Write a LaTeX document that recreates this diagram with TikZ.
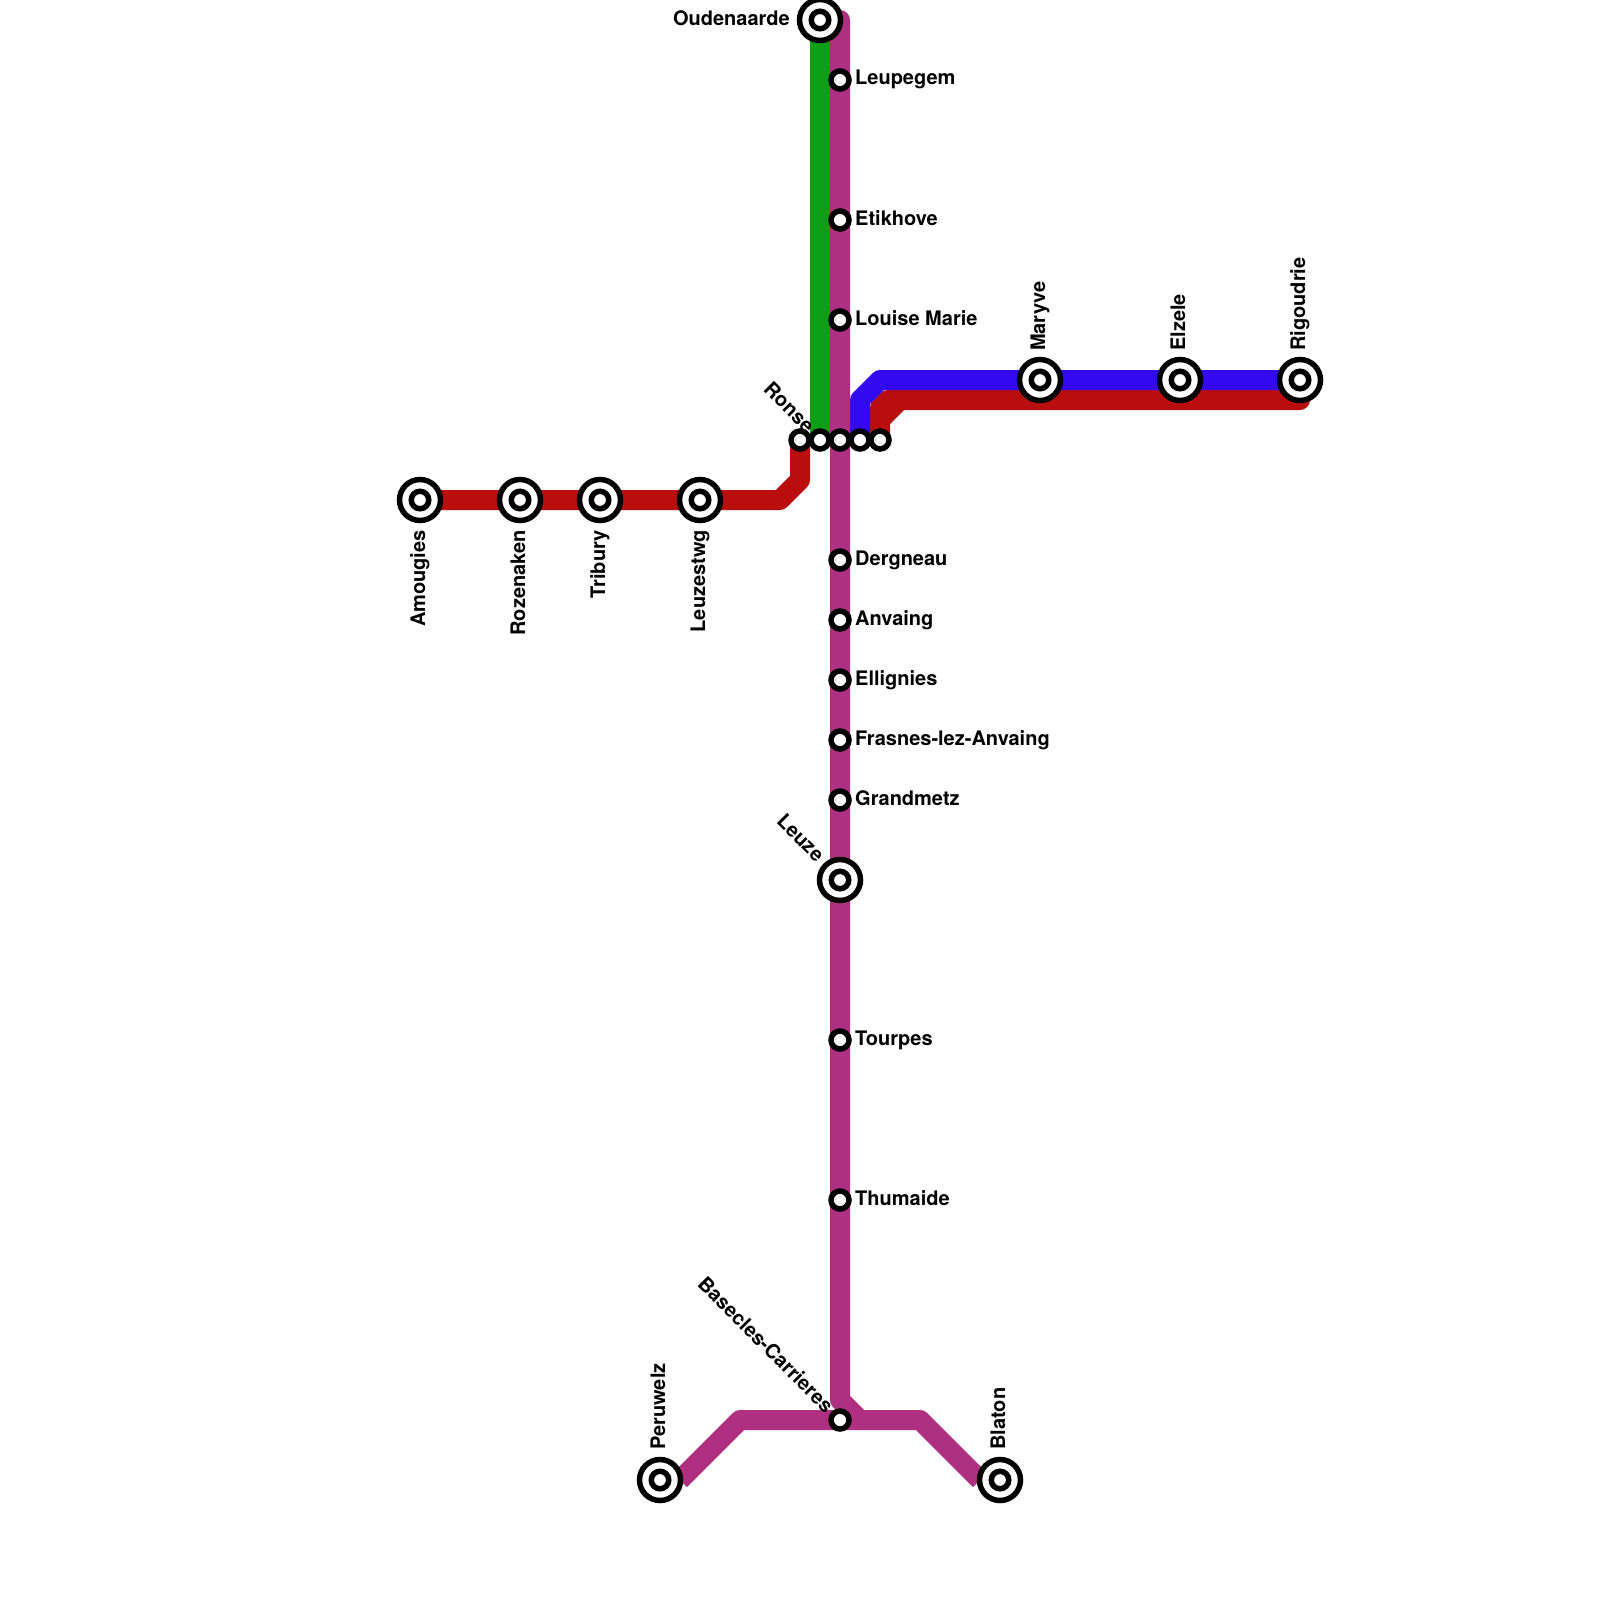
\documentclass[tikz,border=0pt]{standalone}
\usepackage{fontspec}
\setmainfont{TeX Gyre Heros}
\usepackage{xcolor}
\usetikzlibrary{backgrounds}

\definecolor{lineRed}{HTML}{BA0E0E}
\definecolor{lineBlue}{HTML}{3309F0}
\definecolor{lineGreen}{HTML}{0F9F16}
\definecolor{linePurple}{HTML}{AF3080}

\tikzset{
  stn/.style={circle,draw=black,fill=white,line width=5.5pt,inner sep=0pt,minimum size=18pt},
  bigstn/.style={stn,minimum size=41pt,path picture={
    \draw[black,line width=5.5pt] (path picture bounding box.center) circle (8.75pt);}},
  lbl/.style={font=\fontsize{20}{24}\selectfont\bfseries,inner sep=0pt,text=black},
  track/.style={line width=20pt,line join=round}
}

\begin{document}
\begin{tikzpicture}[x=1pt,y=-1pt]
  \useasboundingbox (0,0) rectangle (1600,1600);
  % the stations of the west branch
  \node[bigstn] (amougies) at (420,500) {};
  \node[bigstn] (rozenaken) at (520,500) {};
  \node[bigstn] (tribury) at (600,500) {};
  \node[bigstn] (leuzestwg) at (700,500) {};
  % the row at the interchange
  \node[stn] (ronse) at (800,440) {};
  \node[stn] (ronseb) at (820,440) {};
  \node[stn] (ronsec) at (840,440) {};
  \node[stn] (ronsed) at (860,440) {};
  \node[stn] (ronsee) at (880,440) {};
  % the north-south trunk
  \node[bigstn] (oudenaarde) at (820,20) {};
  \node[stn] (leupegem) at (840,80) {};
  \node[stn] (etikhove) at (840,220) {};
  \node[stn] (louisemarie) at (840,320) {};
  \node[stn] (dergneau) at (840,560) {};
  \node[stn] (anvaing) at (840,620) {};
  \node[stn] (ellignies) at (840,680) {};
  \node[stn] (frasnes) at (840,740) {};
  \node[stn] (grandmetz) at (840,800) {};
  \node[bigstn] (leuze) at (840,880) {};
  \node[stn] (tourpes) at (840,1040) {};
  \node[stn] (thumaide) at (840,1200) {};
  \node[stn] (basecles) at (840,1420) {};
  \node[bigstn] (peruwelz) at (660,1480) {};
  \node[bigstn] (blaton) at (1000,1480) {};
  % the east branch
  \node[bigstn] (maryve) at (1040,380) {};
  \node[bigstn] (elzele) at (1180,380) {};
  \node[bigstn] (rigoudrie) at (1300,380) {};
  \coordinate (trunktop) at (840,20);
  \coordinate (redend) at (1300,400);
  \coordinate (peruwelzend) at (680,1480);
  \coordinate (blatonend) at (980,1480);
  % tracks go under the stations
  \begin{scope}[on background layer]
    \draw[track,lineRed] (amougies.center) -- (780,500) -- (800,480) -- (ronse.center);
    \draw[track,lineGreen] (oudenaarde.center) -- (ronseb.center);
    \draw[track,lineRed,line cap=round] (ronsee.center) -- (880,420) -- (900,400) -- (redend);
    % red fills the corner up to the blue
    \draw[track,lineRed] (880,420) -- (880,408) -- (888,400) -- (900,400);
    \draw[track,lineBlue] (ronsed.center) -- (860,400) -- (880,380) -- (rigoudrie.center);
    \draw[track,linePurple,line cap=round] (trunktop) -- (840,1400) -- (860,1420);
    \draw[track,linePurple] (peruwelzend) -- (740,1420) -- (920,1420) -- (blatonend);
  \end{scope}
  % labels
  \node[lbl,anchor=base east] (oudenaardelbl) at (790,26) {Oudenaarde};
  \node[lbl,anchor=base west] (leupegemlbl) at (855,85) {Leupegem};
  \node[lbl,anchor=base west] (etikhovelbl) at (855,225) {Etikhove};
  \node[lbl,anchor=base west] (louisemarielbl) at (855,325) {Louise Marie};
  \node[lbl,anchor=base west] (dergneaulbl) at (855,565) {Dergneau};
  \node[lbl,anchor=base west] (anvainglbl) at (855,625) {Anvaing};
  \node[lbl,anchor=base west] (elligniesbl) at (855,685) {Ellignies};
  \node[lbl,anchor=base west] (frasneslbl) at (855,745) {Frasnes-lez-Anvaing};
  \node[lbl,anchor=base west] (grandmetzlbl) at (855,805) {Grandmetz};
  \node[lbl,anchor=base west] (tourpeslbl) at (855,1045) {Tourpes};
  \node[lbl,anchor=base west] (thumaidelbl) at (855,1205) {Thumaide};
  \node[lbl,anchor=base east,rotate=-45] (ronselbl) at (806,434) {Ronse};
  \node[lbl,anchor=base east,rotate=-45] (leuzelbl) at (816,863) {Leuze};
  \node[lbl,anchor=base east,rotate=-45] (baseclesbl) at (825,1414) {Basecles-Carrieres};
  \node[lbl,anchor=base east,rotate=90] (amougieslbl) at (425,530) {Amougies};
  \node[lbl,anchor=base east,rotate=90] (rozenakenlbl) at (525,530) {Rozenaken};
  \node[lbl,anchor=base east,rotate=90] (triburylbl) at (605,530) {Tribury};
  \node[lbl,anchor=base east,rotate=90] (leuzestwglbl) at (705,530) {Leuzestwg};
  \node[lbl,anchor=base west,rotate=90] (peruwelzlbl) at (665,1450) {Peruwelz};
  \node[lbl,anchor=base west,rotate=90] (blatonlbl) at (1005,1450) {Blaton};
  \node[lbl,anchor=base west,rotate=90] (maryvelbl) at (1045,351) {Maryve};
  \node[lbl,anchor=base west,rotate=90] (elzelelbl) at (1185,351) {Elzele};
  \node[lbl,anchor=base west,rotate=90] (rigoudrielbl) at (1305,351) {Rigoudrie};
\end{tikzpicture}
\end{document}
